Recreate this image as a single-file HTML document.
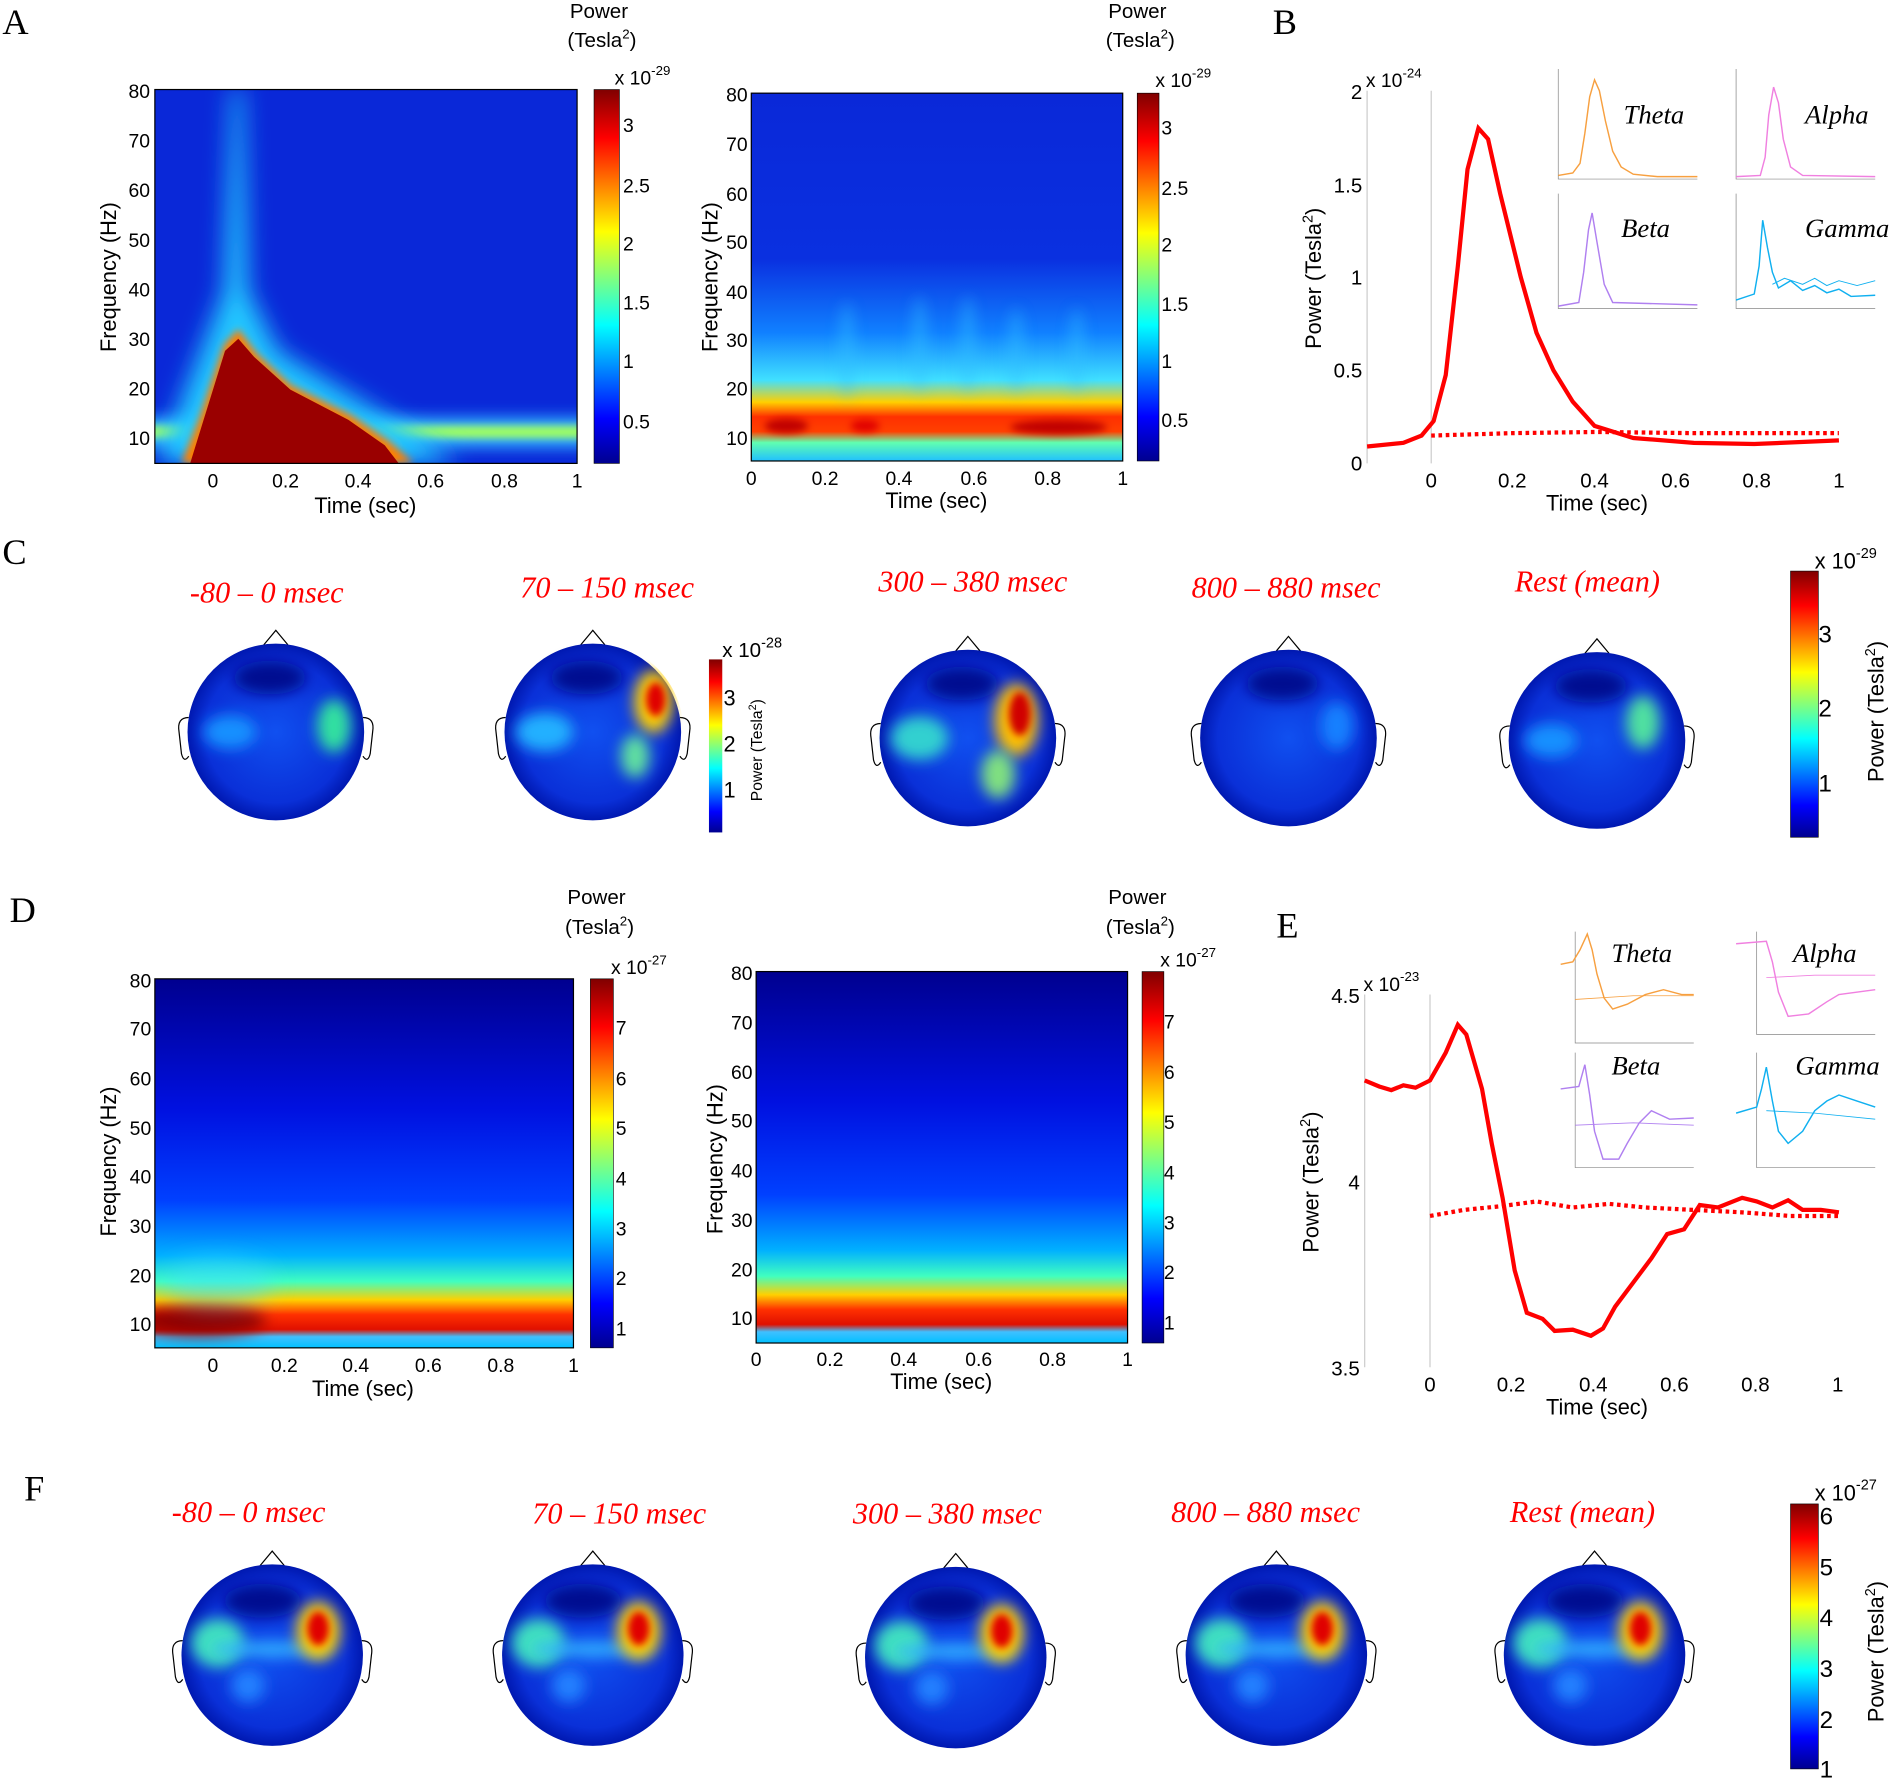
<!DOCTYPE html>
<html><head><meta charset="utf-8"><style>
html,body{margin:0;padding:0;background:#fff}
svg{display:block}
text{font-family:"Liberation Sans",sans-serif;fill:#000}
.L{font-family:"Liberation Serif",serif;font-size:30px}
.t{font-family:"Liberation Serif",serif;font-style:italic;fill:#f00;font-size:25px}
.it{font-family:"Liberation Serif",serif;font-style:italic;font-size:22px}
.tk{font-size:16px}
</style></head><body>
<svg width="1897" height="1781" viewBox="0 0 1568 1472" preserveAspectRatio="none" xmlns="http://www.w3.org/2000/svg">
<defs>
<linearGradient id="jet" x1="0" y1="1" x2="0" y2="0">
<stop offset="0" stop-color="#00008f"/><stop offset="0.12" stop-color="#0000ff"/><stop offset="0.37" stop-color="#00ffff"/><stop offset="0.62" stop-color="#ffff00"/><stop offset="0.87" stop-color="#ff0000"/><stop offset="1" stop-color="#800000"/></linearGradient>
<filter id="b6" x="-100%" y="-100%" width="300%" height="300%"><feGaussianBlur stdDeviation="6"/></filter>
<filter id="b3" x="-100%" y="-100%" width="300%" height="300%"><feGaussianBlur stdDeviation="3"/></filter>
<filter id="b10" x="-100%" y="-100%" width="300%" height="300%"><feGaussianBlur stdDeviation="10"/></filter>
<filter id="b15" x="-100%" y="-100%" width="300%" height="300%"><feGaussianBlur stdDeviation="15"/></filter>
<linearGradient id="dgrad" x1="0" y1="0" x2="0" y2="1">
<stop offset="0" stop-color="#00008f"/><stop offset="0.35" stop-color="#0010e0"/><stop offset="0.6" stop-color="#0040ff"/><stop offset="0.75" stop-color="#00b0ff"/><stop offset="0.82" stop-color="#40ffc0"/><stop offset="0.87" stop-color="#ffd000"/><stop offset="0.91" stop-color="#ff3000"/><stop offset="0.95" stop-color="#e01000"/><stop offset="0.97" stop-color="#40c0ff"/><stop offset="1" stop-color="#00c0ff"/></linearGradient>
<linearGradient id="agrad" x1="0" y1="0" x2="0" y2="1">
<stop offset="0" stop-color="#0a28d8"/><stop offset="0.45" stop-color="#0a30e0"/><stop offset="0.65" stop-color="#1080ff"/><stop offset="0.78" stop-color="#40e0ff"/><stop offset="0.84" stop-color="#ffd000"/><stop offset="0.88" stop-color="#ff3000"/><stop offset="0.92" stop-color="#ff4000"/><stop offset="0.95" stop-color="#60ffb0"/><stop offset="1" stop-color="#20c0ff"/></linearGradient>
<radialGradient id="head" cx="0.5" cy="0.5" r="0.5"><stop offset="0" stop-color="#1050f0"/><stop offset="0.8" stop-color="#0a30d8"/><stop offset="1" stop-color="#0018b0"/></radialGradient>
<clipPath id="cA1"><rect x="128" y="74" width="349" height="309"/></clipPath>
<clipPath id="cA2"><rect x="621" y="77" width="307" height="304"/></clipPath>
<clipPath id="cD1"><rect x="128" y="809" width="346" height="305"/></clipPath>
<clipPath id="hc"><circle r="75"/></clipPath>
<g id="fhead">
<path d="M-10,-74 L0,-86 L10,-74" fill="none" stroke="#000"/><path d="M-74,-12 Q-84,-12 -82,0 L-80,18 Q-78,26 -74,20" fill="none" stroke="#000"/><path d="M74,-12 Q84,-12 82,0 L80,18 Q78,26 74,20" fill="none" stroke="#000"/>
<circle r="75" fill="url(#head)"/>
<g clip-path="url(#hc)">
<ellipse cx="-8" cy="-45" rx="32" ry="14" fill="#000a90" filter="url(#b6)"/>
<ellipse cx="-45" cy="-10" rx="22" ry="20" fill="#40e0c0" filter="url(#b6)"/>
<ellipse cx="0" cy="-5" rx="50" ry="6" fill="#30b0ff" filter="url(#b6)"/>
<ellipse cx="38" cy="-20" rx="18" ry="24" fill="#ffd000" filter="url(#b6)"/>
<ellipse cx="38" cy="-22" rx="9" ry="14" fill="#e00000" filter="url(#b3)"/>
<ellipse cx="-20" cy="25" rx="14" ry="14" fill="#2080ff" filter="url(#b6)"/>
</g></g>
</defs>

<text class="L" x="2" y="28">A</text>
<text class="L" x="1052" y="28">B</text>
<text class="L" x="2" y="466">C</text>
<text class="L" x="8" y="762">D</text>
<text class="L" x="1055" y="775">E</text>
<text class="L" x="20" y="1240">F</text>

<!-- Panel A left -->
<g clip-path="url(#cA1)">
<rect x="128" y="74" width="349" height="309" fill="#0a28d8"/>
<rect x="100" y="345" width="400" height="25" fill="#30b0ff" filter="url(#b6)"/>
<rect x="100" y="352" width="400" height="10" fill="#a0ff60" filter="url(#b3)"/>
<path d="M192,74 L200,74 L205,240 L230,290 L330,350 L380,383 L130,383 L150,330 L185,240Z" fill="#20c8ff" filter="url(#b10)"/>
<path d="M150,383 L165,345 L185,285 L197,272 L212,292 L240,318 L290,343 L322,365 L342,383Z" fill="#ff8000" filter="url(#b3)"/>
<path d="M155,390 L168,348 L186,290 L197,280 L210,295 L240,322 L288,347 L318,368 L335,390Z" fill="#9a0000"/>
</g>
<rect x="128" y="74" width="349" height="309" fill="none" stroke="#000"/>
<g class="tk" text-anchor="end">
<text x="124" y="81">80</text><text x="124" y="122">70</text><text x="124" y="163">60</text><text x="124" y="204">50</text><text x="124" y="245">40</text><text x="124" y="286">30</text><text x="124" y="327">20</text><text x="124" y="368">10</text></g>
<g class="tk" text-anchor="middle"><text x="176" y="403">0</text><text x="236" y="403">0.2</text><text x="296" y="403">0.4</text><text x="356" y="403">0.6</text><text x="417" y="403">0.8</text><text x="477" y="403">1</text></g>
<text x="302" y="424" font-size="18" text-anchor="middle">Time (sec)</text>
<text transform="translate(96,229) rotate(-90)" font-size="18" text-anchor="middle">Frequency (Hz)</text>
<rect x="491" y="74" width="21" height="309" fill="url(#jet)" stroke="#000" stroke-width="0.5"/>
<g class="tk"><text x="515" y="109">3</text><text x="515" y="159">2.5</text><text x="515" y="207">2</text><text x="515" y="256">1.5</text><text x="515" y="304">1</text><text x="515" y="354">0.5</text></g>
<text x="508" y="70" font-size="16">x 10<tspan font-size="11" dy="-8">-29</tspan></text>
<text x="471" y="15" font-size="17">Power</text><text x="469" y="39" font-size="17">(Tesla<tspan font-size="11" dy="-7">2</tspan><tspan dy="7">)</tspan></text>

<!-- Panel A right -->
<g clip-path="url(#cA2)">
<rect x="621" y="77" width="307" height="304" fill="url(#agrad)"/>
<ellipse cx="875" cy="353" rx="40" ry="6" fill="#c00000" filter="url(#b3)"/>
<ellipse cx="650" cy="352" rx="18" ry="6" fill="#c00000" filter="url(#b3)"/>
<ellipse cx="715" cy="352" rx="12" ry="5" fill="#e00000" filter="url(#b3)"/>
<g fill="#30c0ff" opacity="0.5" filter="url(#b6)">
<ellipse cx="700" cy="290" rx="6" ry="40"/><ellipse cx="760" cy="285" rx="6" ry="40"/><ellipse cx="800" cy="285" rx="6" ry="40"/><ellipse cx="840" cy="290" rx="6" ry="35"/><ellipse cx="890" cy="290" rx="6" ry="35"/></g>
</g>
<rect x="621" y="77" width="307" height="304" fill="none" stroke="#000"/>
<g class="tk" text-anchor="end">
<text x="618" y="84">80</text><text x="618" y="125">70</text><text x="618" y="166">60</text><text x="618" y="206">50</text><text x="618" y="247">40</text><text x="618" y="287">30</text><text x="618" y="327">20</text><text x="618" y="368">10</text></g>
<g class="tk" text-anchor="middle"><text x="621" y="401">0</text><text x="682" y="401">0.2</text><text x="743" y="401">0.4</text><text x="805" y="401">0.6</text><text x="866" y="401">0.8</text><text x="928" y="401">1</text></g>
<text x="774" y="420" font-size="18" text-anchor="middle">Time (sec)</text>
<text transform="translate(593,229) rotate(-90)" font-size="18" text-anchor="middle">Frequency (Hz)</text>
<rect x="940" y="77" width="18" height="304" fill="url(#jet)" stroke="#000" stroke-width="0.5"/>
<g class="tk"><text x="960" y="111">3</text><text x="960" y="161">2.5</text><text x="960" y="208">2</text><text x="960" y="257">1.5</text><text x="960" y="304">1</text><text x="960" y="353">0.5</text></g>
<text x="955" y="72" font-size="16">x 10<tspan font-size="11" dy="-8">-29</tspan></text>
<text x="916" y="15" font-size="17">Power</text><text x="914" y="39" font-size="17">(Tesla<tspan font-size="11" dy="-7">2</tspan><tspan dy="7">)</tspan></text>

<!-- Panel B -->
<line x1="1130" y1="75" x2="1130" y2="383" stroke="#ccc"/>
<line x1="1183" y1="75" x2="1183" y2="383" stroke="#ccc"/>
<g text-anchor="end"><text x="1126" y="389" font-size="17">0</text><text x="1126" y="312" font-size="17">0.5</text><text x="1126" y="235" font-size="17">1</text><text x="1126" y="159" font-size="17">1.5</text><text x="1126" y="82" font-size="17">2</text></g>
<text x="1129" y="72" font-size="16">x 10<tspan font-size="11" dy="-8">-24</tspan></text>
<g font-size="17" text-anchor="middle"><text x="1183" y="403">0</text><text x="1250" y="403">0.2</text><text x="1318" y="403">0.4</text><text x="1385" y="403">0.6</text><text x="1452" y="403">0.8</text><text x="1520" y="403">1</text></g>
<text x="1320" y="422" font-size="18" text-anchor="middle">Time (sec)</text>
<text transform="translate(1092,230) rotate(-90)" font-size="18" text-anchor="middle">Power (Tesla<tspan font-size="12" dy="-7">2</tspan><tspan dy="7">)</tspan></text>
<path d="M1130,369 L1160,366 L1175,360 L1185,348 L1195,310 L1205,220 L1213,140 L1222,106 L1230,115 L1240,160 L1257,229 L1270,275 L1284,306 L1300,332 L1318,352 L1350,362 L1400,366 L1450,367 L1520,364" fill="none" stroke="#f00" stroke-width="3.5"/>
<path d="M1183,360 L1250,358 L1320,357 L1400,358 L1520,358" fill="none" stroke="#f00" stroke-width="3.5" stroke-dasharray="3,3"/>
<g stroke-width="1.2" fill="none">
<path d="M1288,57 V148 H1403" stroke="#888" stroke-width="0.6"/>
<path d="M1288,145 L1300,143 L1306,135 L1310,110 L1314,80 L1318,66 L1322,75 L1327,100 L1333,125 L1340,138 L1350,144 L1370,146 L1403,146" stroke="#f7a040"/>
<path d="M1435,57 V148 H1550" stroke="#888" stroke-width="0.6"/>
<path d="M1435,146 L1455,145 L1459,130 L1462,95 L1466,72 L1470,85 L1474,115 L1480,138 L1490,145 L1550,146" stroke="#f080e0"/>
<path d="M1288,160 V255 H1403" stroke="#888" stroke-width="0.6"/>
<path d="M1288,253 L1305,250 L1309,225 L1313,190 L1316,176 L1320,200 L1326,235 L1333,250 L1403,252" stroke="#b080f0"/>
<path d="M1435,160 V255 H1550" stroke="#888" stroke-width="0.6"/>
<path d="M1435,248 L1450,243 L1454,220 L1457,182 L1461,205 L1465,225 L1470,238 L1480,232 L1490,240 L1500,236 L1510,242 L1520,239 L1530,245 L1550,244" stroke="#10b0f0"/>
<path d="M1465,235 L1475,230 L1490,235 L1500,230 L1510,236 L1520,232 L1535,236 L1550,232" stroke="#10b0f0" stroke-width="0.8"/>
</g>
<text class="it" x="1342" y="102">Theta</text><text class="it" x="1492" y="102">Alpha</text>
<text class="it" x="1340" y="196">Beta</text><text class="it" x="1492" y="196">Gamma</text>

<!-- Panel C -->
<text class="t" x="157" y="498">-80 – 0 msec</text>
<text class="t" x="430" y="494">70 – 150 msec</text>
<text class="t" x="726" y="489">300 – 380 msec</text>
<text class="t" x="985" y="494">800 – 880 msec</text>
<text class="t" x="1252" y="489">Rest (mean)</text>

<g transform="translate(228,605)">
<path d="M-10,-72 L0,-84 L10,-72" fill="none" stroke="#000"/><path d="M-72,-12 Q-82,-12 -80,0 L-78,18 Q-76,26 -72,20" fill="none" stroke="#000"/><path d="M72,-12 Q82,-12 80,0 L78,18 Q76,26 72,20" fill="none" stroke="#000"/>
<circle r="73" fill="url(#head)"/>
<g clip-path="url(#hc)">
<ellipse cx="-5" cy="-45" rx="30" ry="14" fill="#000a90" filter="url(#b6)"/>
<ellipse cx="48" cy="-5" rx="14" ry="22" fill="#30e0a0" filter="url(#b6)"/>
<ellipse cx="-38" cy="0" rx="22" ry="14" fill="#1890ff" filter="url(#b6)"/>
</g></g>
<g transform="translate(490,605)">
<path d="M-10,-72 L0,-84 L10,-72" fill="none" stroke="#000"/><path d="M-72,-12 Q-82,-12 -80,0 L-78,18 Q-76,26 -72,20" fill="none" stroke="#000"/><path d="M72,-12 Q82,-12 80,0 L78,18 Q76,26 72,20" fill="none" stroke="#000"/>
<circle r="73" fill="url(#head)"/>
<g clip-path="url(#hc)">
<ellipse cx="-5" cy="-45" rx="30" ry="14" fill="#000a90" filter="url(#b6)"/>
<ellipse cx="-40" cy="0" rx="24" ry="16" fill="#20b0ff" filter="url(#b6)"/>
<ellipse cx="50" cy="-25" rx="16" ry="26" fill="#ffd000" filter="url(#b6)"/>
<ellipse cx="52" cy="-27" rx="8" ry="14" fill="#e00000" filter="url(#b3)"/>
<ellipse cx="35" cy="20" rx="12" ry="18" fill="#60e0a0" filter="url(#b6)"/>
</g></g>
<g transform="translate(800,610)">
<path d="M-10,-72 L0,-84 L10,-72" fill="none" stroke="#000"/><path d="M-72,-12 Q-82,-12 -80,0 L-78,18 Q-76,26 -72,20" fill="none" stroke="#000"/><path d="M72,-12 Q82,-12 80,0 L78,18 Q76,26 72,20" fill="none" stroke="#000"/>
<circle r="73" fill="url(#head)"/>
<g clip-path="url(#hc)">
<ellipse cx="-5" cy="-45" rx="30" ry="14" fill="#000a90" filter="url(#b6)"/>
<ellipse cx="-40" cy="0" rx="24" ry="18" fill="#30d0d0" filter="url(#b6)"/>
<ellipse cx="40" cy="-15" rx="18" ry="30" fill="#ffc000" filter="url(#b6)"/>
<ellipse cx="43" cy="-20" rx="9" ry="18" fill="#d00000" filter="url(#b3)"/>
<ellipse cx="25" cy="30" rx="14" ry="20" fill="#80e080" filter="url(#b6)"/>
</g></g>
<g transform="translate(1065,610)">
<path d="M-10,-72 L0,-84 L10,-72" fill="none" stroke="#000"/><path d="M-72,-12 Q-82,-12 -80,0 L-78,18 Q-76,26 -72,20" fill="none" stroke="#000"/><path d="M72,-12 Q82,-12 80,0 L78,18 Q76,26 72,20" fill="none" stroke="#000"/>
<circle r="73" fill="url(#head)"/>
<g clip-path="url(#hc)">
<ellipse cx="-5" cy="-45" rx="30" ry="14" fill="#000a90" filter="url(#b6)"/>
<ellipse cx="40" cy="-10" rx="14" ry="20" fill="#1880ff" filter="url(#b6)"/>
</g></g>
<g transform="translate(1320,612)">
<path d="M-10,-72 L0,-84 L10,-72" fill="none" stroke="#000"/><path d="M-72,-12 Q-82,-12 -80,0 L-78,18 Q-76,26 -72,20" fill="none" stroke="#000"/><path d="M72,-12 Q82,-12 80,0 L78,18 Q76,26 72,20" fill="none" stroke="#000"/>
<circle r="73" fill="url(#head)"/>
<g clip-path="url(#hc)">
<ellipse cx="-5" cy="-45" rx="30" ry="14" fill="#000a90" filter="url(#b6)"/>
<ellipse cx="38" cy="-15" rx="14" ry="22" fill="#50e0a0" filter="url(#b6)"/>
<ellipse cx="-38" cy="0" rx="22" ry="14" fill="#1890ff" filter="url(#b6)"/>
</g></g>
<rect x="586" y="545" width="11" height="143" fill="url(#jet)"/>
<g font-size="18"><text x="598" y="583">3</text><text x="598" y="621">2</text><text x="598" y="659">1</text></g>
<text x="597" y="543" font-size="17">x 10<tspan font-size="12" dy="-8">-28</tspan></text>
<text transform="translate(630,620) rotate(-90)" font-size="13" text-anchor="middle">Power (Tesla<tspan font-size="9" dy="-5">2</tspan><tspan dy="5">)</tspan></text>
<rect x="1480" y="472" width="23" height="220" fill="url(#jet)" stroke="#000" stroke-width="0.5"/>
<g font-size="20"><text x="1503" y="531">3</text><text x="1503" y="592">2</text><text x="1503" y="654">1</text></g>
<text x="1500" y="470" font-size="18">x 10<tspan font-size="12" dy="-9">-29</tspan></text>
<text transform="translate(1557,588) rotate(-90)" font-size="18" text-anchor="middle">Power (Tesla<tspan font-size="12" dy="-7">2</tspan><tspan dy="7">)</tspan></text>

<!-- Panel D left -->
<g clip-path="url(#cD1)">
<rect x="128" y="809" width="346" height="305" fill="url(#dgrad)"/>
<ellipse cx="165" cy="1092" rx="55" ry="12" fill="#900000" filter="url(#b6)"/>
<ellipse cx="180" cy="1060" rx="45" ry="20" fill="#40e0ff" opacity="0.5" filter="url(#b10)"/>
</g>
<rect x="128" y="809" width="346" height="305" fill="none" stroke="#000"/>
<g class="tk" text-anchor="end">
<text x="125" y="816">80</text><text x="125" y="856">70</text><text x="125" y="897">60</text><text x="125" y="938">50</text><text x="125" y="978">40</text><text x="125" y="1019">30</text><text x="125" y="1060">20</text><text x="125" y="1100">10</text></g>
<g class="tk" text-anchor="middle"><text x="176" y="1134">0</text><text x="235" y="1134">0.2</text><text x="294" y="1134">0.4</text><text x="354" y="1134">0.6</text><text x="414" y="1134">0.8</text><text x="474" y="1134">1</text></g>
<text x="300" y="1154" font-size="18" text-anchor="middle">Time (sec)</text>
<text transform="translate(96,960) rotate(-90)" font-size="18" text-anchor="middle">Frequency (Hz)</text>
<rect x="488" y="809" width="19" height="305" fill="url(#jet)" stroke="#000" stroke-width="0.5"/>
<g class="tk"><text x="509" y="855">7</text><text x="509" y="897">6</text><text x="509" y="938">5</text><text x="509" y="980">4</text><text x="509" y="1021">3</text><text x="509" y="1062">2</text><text x="509" y="1104">1</text></g>
<text x="505" y="805" font-size="16">x 10<tspan font-size="11" dy="-8">-27</tspan></text>
<text x="469" y="747" font-size="17">Power</text><text x="467" y="772" font-size="17">(Tesla<tspan font-size="11" dy="-7">2</tspan><tspan dy="7">)</tspan></text>

<!-- Panel D right -->
<rect x="625" y="803" width="307" height="307" fill="url(#dgrad)"/>
<rect x="625" y="803" width="307" height="307" fill="none" stroke="#000"/>
<g class="tk" text-anchor="end">
<text x="622" y="810">80</text><text x="622" y="851">70</text><text x="622" y="892">60</text><text x="622" y="932">50</text><text x="622" y="973">40</text><text x="622" y="1014">30</text><text x="622" y="1055">20</text><text x="622" y="1095">10</text></g>
<g class="tk" text-anchor="middle"><text x="625" y="1129">0</text><text x="686" y="1129">0.2</text><text x="747" y="1129">0.4</text><text x="809" y="1129">0.6</text><text x="870" y="1129">0.8</text><text x="932" y="1129">1</text></g>
<text x="778" y="1148" font-size="18" text-anchor="middle">Time (sec)</text>
<text transform="translate(597,958) rotate(-90)" font-size="18" text-anchor="middle">Frequency (Hz)</text>
<rect x="944" y="803" width="18" height="307" fill="url(#jet)" stroke="#000" stroke-width="0.5"/>
<g class="tk"><text x="962" y="850">7</text><text x="962" y="892">6</text><text x="962" y="933">5</text><text x="962" y="975">4</text><text x="962" y="1016">3</text><text x="962" y="1057">2</text><text x="962" y="1099">1</text></g>
<text x="959" y="799" font-size="16">x 10<tspan font-size="11" dy="-8">-27</tspan></text>
<text x="916" y="747" font-size="17">Power</text><text x="914" y="772" font-size="17">(Tesla<tspan font-size="11" dy="-7">2</tspan><tspan dy="7">)</tspan></text>

<!-- Panel E -->
<line x1="1128" y1="822" x2="1128" y2="1130" stroke="#ccc"/>
<line x1="1182" y1="822" x2="1182" y2="1130" stroke="#ccc"/>
<g text-anchor="end" font-size="17"><text x="1124" y="829">4.5</text><text x="1124" y="983">4</text><text x="1124" y="1137">3.5</text></g>
<text x="1127" y="819" font-size="16">x 10<tspan font-size="11" dy="-8">-23</tspan></text>
<g font-size="17" text-anchor="middle"><text x="1182" y="1150">0</text><text x="1249" y="1150">0.2</text><text x="1317" y="1150">0.4</text><text x="1384" y="1150">0.6</text><text x="1451" y="1150">0.8</text><text x="1519" y="1150">1</text></g>
<text x="1320" y="1169" font-size="18" text-anchor="middle">Time (sec)</text>
<text transform="translate(1090,977) rotate(-90)" font-size="18" text-anchor="middle">Power (Tesla<tspan font-size="12" dy="-7">2</tspan><tspan dy="7">)</tspan></text>
<path d="M1128,893 L1140,898 L1150,901 L1160,897 L1170,899 L1182,893 L1195,870 L1205,847 L1212,855 L1225,900 L1233,945 L1242,990 L1252,1050 L1262,1085 L1275,1090 L1285,1100 L1300,1099 L1315,1104 L1325,1098 L1335,1080 L1350,1060 L1365,1040 L1378,1020 L1392,1016 L1405,996 L1420,998 L1440,990 L1452,993 L1465,998 L1478,992 L1490,1000 L1505,1000 L1520,1002" fill="none" stroke="#f00" stroke-width="3.5"/>
<path d="M1182,1005 L1210,1000 L1240,997 L1270,993 L1300,998 L1330,995 L1360,998 L1400,1000 L1440,1002 L1480,1005 L1520,1005" fill="none" stroke="#f00" stroke-width="3.5" stroke-dasharray="3,3"/>
<g stroke-width="1.2" fill="none">
<path d="M1302,770 V862 H1400" stroke="#888" stroke-width="0.6"/>
<path d="M1290,797 L1300,795 L1306,785 L1312,772 L1316,785 L1320,805 L1326,825 L1333,834 L1345,830 L1360,822 L1375,818 L1390,822 L1400,822" stroke="#f7a040"/>
<path d="M1302,826 L1350,823 L1400,823" stroke="#f7a040" stroke-width="0.7"/>
<path d="M1452,770 V855 H1550" stroke="#888" stroke-width="0.6"/>
<path d="M1435,780 L1460,778 L1465,795 L1470,820 L1478,840 L1495,838 L1510,828 L1520,822 L1550,818" stroke="#f080e0"/>
<path d="M1460,808 L1500,806 L1550,806" stroke="#f080e0" stroke-width="0.7"/>
<path d="M1302,870 V965 H1400" stroke="#888" stroke-width="0.6"/>
<path d="M1290,900 L1305,898 L1310,880 L1314,905 L1318,935 L1325,958 L1338,958 L1345,945 L1355,928 L1365,918 L1380,925 L1400,924" stroke="#b080f0"/>
<path d="M1302,930 L1350,928 L1400,930" stroke="#b080f0" stroke-width="0.7"/>
<path d="M1452,870 V965 H1550" stroke="#888" stroke-width="0.6"/>
<path d="M1435,920 L1452,915 L1456,900 L1460,882 L1465,910 L1470,935 L1478,945 L1490,935 L1500,918 L1510,910 L1520,905 L1535,910 L1550,915" stroke="#10b0f0"/>
<path d="M1460,918 L1500,920 L1550,925" stroke="#10b0f0" stroke-width="0.7"/>
</g>
<text class="it" x="1332" y="795">Theta</text><text class="it" x="1482" y="795">Alpha</text>
<text class="it" x="1332" y="888">Beta</text><text class="it" x="1484" y="888">Gamma</text>

<!-- Panel F -->
<text class="t" x="142" y="1258">-80 – 0 msec</text>
<text class="t" x="440" y="1259">70 – 150 msec</text>
<text class="t" x="705" y="1259">300 – 380 msec</text>
<text class="t" x="968" y="1258">800 – 880 msec</text>
<text class="t" x="1248" y="1258">Rest (mean)</text>
<g transform="translate(225,1368)"><use href="#fhead"/></g>
<g transform="translate(490,1368)"><use href="#fhead"/></g>
<g transform="translate(790,1370)"><use href="#fhead"/></g>
<g transform="translate(1055,1368)"><use href="#fhead"/></g>
<g transform="translate(1318,1368)"><use href="#fhead"/></g>
<rect x="1480" y="1243" width="23" height="219" fill="url(#jet)" stroke="#000" stroke-width="0.5"/>
<g font-size="20"><text x="1504" y="1260">6</text><text x="1504" y="1302">5</text><text x="1504" y="1344">4</text><text x="1504" y="1386">3</text><text x="1504" y="1428">2</text><text x="1504" y="1469">1</text></g>
<text x="1500" y="1240" font-size="18">x 10<tspan font-size="12" dy="-9">-27</tspan></text>
<text transform="translate(1557,1365) rotate(-90)" font-size="18" text-anchor="middle">Power (Tesla<tspan font-size="12" dy="-7">2</tspan><tspan dy="7">)</tspan></text>
</svg>
</body></html>
